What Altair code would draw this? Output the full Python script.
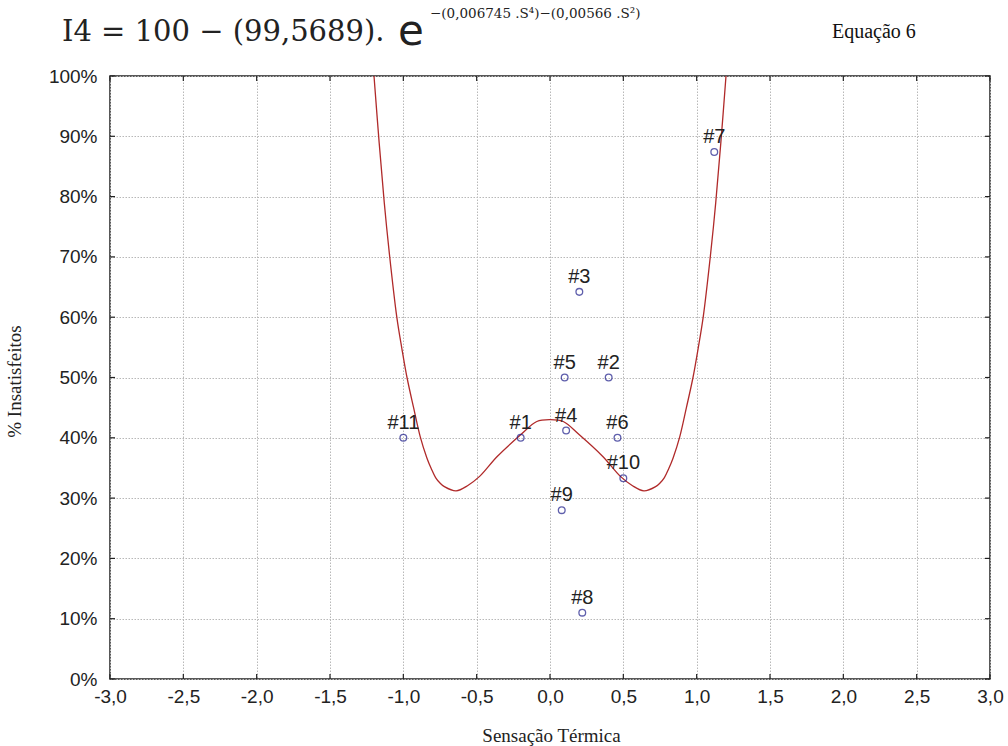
import altair as alt
import pandas as pd

# Observed points
pt_labels = ["#1", "#2", "#3", "#4", "#5", "#6", "#7", "#8", "#9", "#10", "#11"]
pt_x = [-0.20, 0.40, 0.20, 0.11, 0.10, 0.46, 1.12, 0.22, 0.08, 0.50, -1.00]
pt_y = [40.0, 50.0, 64.2, 41.2, 50.0, 40.0, 87.4, 11.0, 28.0, 33.3, 40.0]

# Fitted curve
curve_x = [-1.20, -1.165, -1.13, -1.095, -1.045, -1.01, -0.975, -0.93, -0.885, -0.84,
           -0.81, -0.78, -0.75, -0.72, -0.64, -0.56, -0.48, -0.36, -0.20, -0.09, 0.0,
           0.09, 0.20, 0.36, 0.48, 0.56, 0.64, 0.72, 0.75, 0.78, 0.81, 0.84, 0.885,
           0.93, 0.975, 1.01, 1.045, 1.095, 1.13, 1.165, 1.20]
curve_y = [100, 89, 79, 70.5, 60.1, 54.8, 50.0, 45.0, 40.2, 36.7,
           34.9, 33.4, 32.5, 31.9, 31.2, 32.1, 33.6, 36.9, 40.5, 42.7, 43,
           42.7, 40.5, 36.9, 33.6, 32.1, 31.2, 31.9, 32.5, 33.4, 34.9, 36.7, 40.2,
           45.0, 50.0, 54.8, 60.1, 70.5, 79, 89, 100]

x_ticks = [-3.0, -2.5, -2.0, -1.5, -1.0, -0.5, 0.0, 0.5, 1.0, 1.5, 2.0, 2.5, 3.0]
y_ticks = [0, 10, 20, 30, 40, 50, 60, 70, 80, 90, 100]

pts = pd.DataFrame({"label": pt_labels, "S": pt_x, "I": pt_y})
crv = pd.DataFrame({"S": curve_x, "I": curve_y, "o": list(range(len(curve_x)))})
xt = pd.DataFrame({"S": x_ticks})
yt = pd.DataFrame({"I": y_ticks})

W, H = 880, 603
TK = 5

xscale = alt.Scale(domain=[-3, 3], nice=False, zero=False)
yscale = alt.Scale(domain=[0, 100], nice=False, zero=False)

xaxis = alt.Axis(
    values=x_ticks,
    labelExpr="replace(replace(format(datum.value, '.1f'), '.', ','), '\u2212', '-')",
    labelFlush=False,
    labelFont="Liberation Sans", labelFontSize=19, labelColor="#222",
    labelPadding=8, ticks=False, tickSize=0,
    grid=True, gridDash=[1.5, 1.5], gridColor="#b8b8b8", gridWidth=1,
    domain=False,
    title="Sensação Térmica", titleFont="Liberation Serif", titleFontSize=19,
    titleFontWeight="normal", titleColor="#222",
    titleX=441, titleY=56, titleAlign="center", titleBaseline="middle",
)
yaxis = alt.Axis(
    values=y_ticks,
    labelExpr="datum.value + '%'",
    labelFlush=False,
    labelFont="Liberation Sans", labelFontSize=19, labelColor="#222",
    labelPadding=13, ticks=False, tickSize=0,
    grid=True, gridDash=[1.5, 1.5], gridColor="#b8b8b8", gridWidth=1,
    domain=False,
    title="% Insatisfeitos", titleFont="Liberation Serif", titleFontSize=19,
    titleFontWeight="normal", titleColor="#222",
    titleX=-96, titleY=305, titleAlign="center", titleBaseline="middle", titleAngle=-90,
)

line = alt.Chart(crv).mark_line(color="#b02a2a", strokeWidth=1.3, interpolate="catmull-rom", clip=True).encode(
    x=alt.X("S:Q", scale=xscale, axis=xaxis),
    y=alt.Y("I:Q", scale=yscale, axis=yaxis),
    order="o:Q",
)

# inner tick marks on all four sides of the frame
tick_style = dict(color="#222", strokeWidth=1.2)
tb = alt.Chart(xt).mark_rule(**tick_style).encode(
    x=alt.X("S:Q", scale=xscale), y=alt.value(H), y2=alt.value(H - TK))
tt = alt.Chart(xt).mark_rule(**tick_style).encode(
    x=alt.X("S:Q", scale=xscale), y=alt.value(0), y2=alt.value(TK))
tl = alt.Chart(yt).mark_rule(**tick_style).encode(
    y=alt.Y("I:Q", scale=yscale), x=alt.value(0), x2=alt.value(TK))
tr = alt.Chart(yt).mark_rule(**tick_style).encode(
    y=alt.Y("I:Q", scale=yscale), x=alt.value(W), x2=alt.value(W - TK))

points = alt.Chart(pts).mark_point(shape="circle", filled=False, color="#1c1c8a", size=45, strokeWidth=1.3).encode(
    x=alt.X("S:Q", scale=xscale),
    y=alt.Y("I:Q", scale=yscale),
)

labels = alt.Chart(pts).mark_text(font="Liberation Sans", fontSize=20, color="#222", align="center",
                                  baseline="alphabetic", dy=-9).encode(
    x=alt.X("S:Q", scale=xscale),
    y=alt.Y("I:Q", scale=yscale),
    text="label:N",
)

ann = pd.DataFrame({"k": [0]})
eq1 = alt.Chart(ann).mark_text(text="I4 = 100 − (99,5689).", font="DejaVu Serif", fontSize=29,
                               align="left", baseline="alphabetic", color="#222").encode(
    x=alt.value(-48), y=alt.value(-35))
eq2 = alt.Chart(ann).mark_text(text="e", font="DejaVu Sans", fontSize=42,
                               align="left", baseline="alphabetic", color="#222").encode(
    x=alt.value(288), y=alt.value(-31))
eq3 = alt.Chart(ann).mark_text(text="−(0,006745 .S⁴)−(0,00566 .S²)", font="DejaVu Serif", fontSize=13.5,
                               align="left", baseline="alphabetic", color="#222").encode(
    x=alt.value(320), y=alt.value(-58))
eq4 = alt.Chart(ann).mark_text(text="Equação 6", font="Liberation Serif", fontSize=20,
                               align="left", baseline="alphabetic", color="#111").encode(
    x=alt.value(722), y=alt.value(-38))

chart = alt.layer(line, tb, tt, tl, tr, points, labels, eq1, eq2, eq3, eq4).properties(
    width=W, height=H,
    autosize=alt.AutoSizeParams(type="none"),
    padding={"left": 110, "top": 76, "right": 18, "bottom": 67},
    background="white",
).configure_view(stroke="#222", strokeWidth=1.5)

chart.save("out.html", embed_options={"renderer": "svg", "actions": False})
